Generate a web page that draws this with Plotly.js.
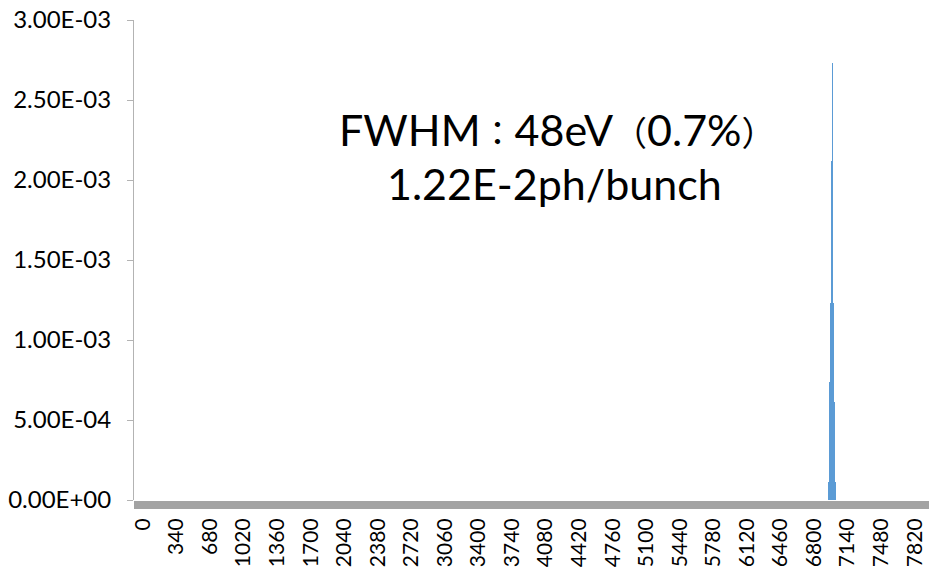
<!DOCTYPE html>
<html>
<head>
<meta charset="utf-8">
<script src="https://cdn.plot.ly/plotly-3.0.1.min.js"></script>
<style>html,body{margin:0;padding:0;background:#fff;}#chart{width:929px;height:572px;}</style>
</head>
<body>
<div id="chart"></div>
<script>
// Photon energy bins (eV) with non-zero intensity; all other 10 eV bins are zero
var energies = [6950, 6960, 6970, 6980, 6990, 7000, 7010, 7020];
var intensity = [0.000114, 0.00074, 0.00123, 0.00212, 0.00273, 0.00123, 0.00061, 0.000114];

// Category-axis labels (every 340 eV)
var xTickVals = [0, 340, 680, 1020, 1360, 1700, 2040, 2380, 2720, 3060, 3400, 3740, 4080, 4420, 4760, 5100, 5440, 5780, 6120, 6460, 6800, 7140, 7480, 7820];
var xTickText = ["0", "340", "680", "1020", "1360", "1700", "2040", "2380", "2720", "3060", "3400", "3740", "4080", "4420", "4760", "5100", "5440", "5780", "6120", "6460", "6800", "7140", "7480", "7820"];
var yTickVals = [0, 0.0005, 0.001, 0.0015, 0.002, 0.0025, 0.003];
var yTickText = ["0.00E+00", "5.00E-04", "1.00E-03", "1.50E-03", "2.00E-03", "2.50E-03", "3.00E-03"];

var fw = function (c) { return '<span style="font-size:34px">' + c + '</span>'; };
var annLine1 = "FWHM" + fw("：") + "48eV" + fw("（") + "0.7%" + fw("）");
var annLine2 = "1.22E-2ph/bunch";

var fontFam = "Lato, 'Noto Sans CJK JP', sans-serif";

var trace = {
  type: 'bar',
  x: energies,
  y: intensity,
  width: 10,
  marker: {color: '#5B9BD5', line: {width: 0}},
  hoverinfo: 'x+y'
};

var layout = {
  width: 929,
  height: 572,
  margin: {l: 134, r: 0, t: 20, b: 72, pad: 0},
  paper_bgcolor: '#ffffff',
  plot_bgcolor: '#ffffff',
  showlegend: false,
  bargap: 0,
  font: {family: fontFam, color: '#000000', size: 23},
  xaxis: {
    type: 'linear',
    range: [-91, 7965],
    showgrid: false,
    zeroline: false,
    showline: false,
    tickmode: 'array',
    tickvals: xTickVals,
    ticktext: xTickText,
    tickangle: -90,
    ticks: 'outside',
    ticklen: 8,
    tickwidth: 1,
    tickcolor: '#a3a3a3',
    ticklabelstandoff: 1,
    minor: {ticks: 'outside', dtick: 10, tick0: 0, ticklen: 8, tickwidth: 1, tickcolor: '#a3a3a3', showgrid: false},
    tickfont: {family: fontFam, size: 21, color: '#000000'}
  },
  yaxis: {
    range: [0, 0.003],
    showgrid: false,
    zeroline: false,
    showline: true,
    linecolor: '#b3b3b3',
    linewidth: 1,
    tickmode: 'array',
    tickvals: yTickVals,
    ticktext: yTickText,
    ticks: 'outside',
    ticklen: 6,
    tickcolor: '#b3b3b3',
    ticklabelstandoff: 11,
    tickfont: {family: fontFam, size: 24, color: '#000000'}
  },
  annotations: [
    {text: annLine1, xref: 'paper', yref: 'paper', x: 0.533, y: 0.771, showarrow: false,
     xanchor: 'center', yanchor: 'middle', font: {family: fontFam, size: 43, color: '#000000'}},
    {text: annLine2, xref: 'paper', yref: 'paper', x: 0.529, y: 0.660, showarrow: false,
     xanchor: 'center', yanchor: 'middle', font: {family: fontFam, size: 43, color: '#000000'}}
  ]
};

Plotly.newPlot('chart', [trace], layout, {displayModeBar: false, staticPlot: true});
</script>
</body>
</html>
